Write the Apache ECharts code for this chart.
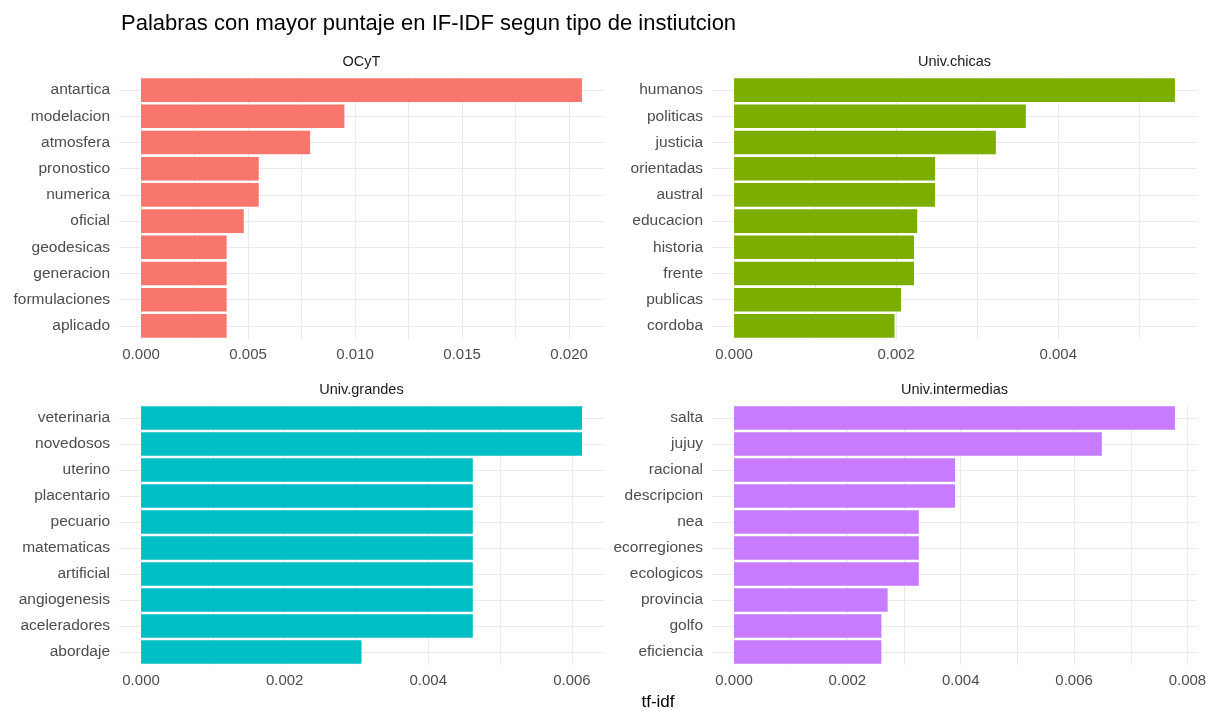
<!DOCTYPE html>
<html>
<head>
<meta charset="utf-8">
<script src="https://cdn.jsdelivr.net/npm/echarts@6/dist/echarts.min.js"></script>
<style>
  html, body { margin: 0; padding: 0; background: #fff; }
  #chart { width: 1214px; height: 711px; }
</style>
</head>
<body>
<div id="chart"></div>
<script>
document.addEventListener('DOMContentLoaded', function() {

    const chartDom = document.getElementById('chart');
    const myChart = echarts.init(chartDom);

    // panel names (facets)
    const panelNames = ['OCyT', 'Univ.chicas', 'Univ.grandes', 'Univ.intermedias'];
    const panelColors = ['#F8766D', '#7CAE00', '#00BFC4', '#C77CFF'];

    // words and tf-idf per panel, top to bottom
    const ocytWords = ['antartica', 'modelacion', 'atmosfera', 'pronostico', 'numerica', 'oficial', 'geodesicas', 'generacion', 'formulaciones', 'aplicado'];
    const ocytValues = [0.0206, 0.0095, 0.0079, 0.0055, 0.0055, 0.0048, 0.0040, 0.0040, 0.0040, 0.0040];

    const chicasWords = ['humanos', 'politicas', 'justicia', 'orientadas', 'austral', 'educacion', 'historia', 'frente', 'publicas', 'cordoba'];
    const chicasValues = [0.00544, 0.00360, 0.00323, 0.00248, 0.00248, 0.00226, 0.00222, 0.00222, 0.00206, 0.00198];

    const grandesWords = ['veterinaria', 'novedosos', 'uterino', 'placentario', 'pecuario', 'matematicas', 'artificial', 'angiogenesis', 'aceleradores', 'abordaje'];
    const grandesValues = [0.00614, 0.00614, 0.00462, 0.00462, 0.00462, 0.00462, 0.00462, 0.00462, 0.00462, 0.00307];

    const intermediasWords = ['salta', 'jujuy', 'racional', 'descripcion', 'nea', 'ecorregiones', 'ecologicos', 'provincia', 'golfo', 'eficiencia'];
    const intermediasValues = [0.00778, 0.00649, 0.00390, 0.00390, 0.00326, 0.00326, 0.00326, 0.00271, 0.00260, 0.00260];

    // x tick labels (major) and minor grid positions
    const ocytTicks = [0, 0.005, 0.010, 0.015, 0.020];
    const ocytMinor = [0.0025, 0.0075, 0.0125, 0.0175];
    const chicasTicks = [0, 0.002, 0.004];
    const chicasMinor = [0.001, 0.003, 0.005];
    const grandesTicks = [0, 0.002, 0.004, 0.006];
    const grandesMinor = [0.001, 0.003, 0.005];
    const intermediasTicks = [0, 0.002, 0.004, 0.006, 0.008];
    const intermediasMinor = [0.001, 0.003, 0.005, 0.007];

    const words = [ocytWords, chicasWords, grandesWords, intermediasWords];
    const values = [ocytValues, chicasValues, grandesValues, intermediasValues];
    const majors = [ocytTicks, chicasTicks, grandesTicks, intermediasTicks];
    const minors = [ocytMinor, chicasMinor, grandesMinor, intermediasMinor];

    // panel boxes
    const panels = [
        { left: 119, top: 77, width: 485, height: 262 },
        { left: 712, top: 77, width: 485, height: 262 },
        { left: 119, top: 405, width: 485, height: 260 },
        { left: 712, top: 405, width: 485, height: 260 }
    ];

    const font = '"Liberation Sans", Arial, sans-serif';

    const grids = [], xAxes = [], yAxes = [], series = [], graphics = [];

    panels.forEach(function(p, i) {
        const maxVal = Math.max.apply(null, values[i]);
        const pad = maxVal * 0.05;

        grids.push({
            left: p.left, top: p.top, width: p.width, height: p.height,
            containLabel: false, outerBoundsMode: 'none'
        });

        xAxes.push({
            type: 'value',
            gridIndex: i,
            min: -pad,
            max: maxVal + pad,
            axisLine: { show: false, onZero: false },
            axisTick: { show: false, customValues: majors[i].concat(minors[i]) },
            splitLine: { show: true, lineStyle: { color: '#EBEBEB', width: 1 } },
            axisLabel: {
                customValues: majors[i],
                formatter: function(v) { return v.toFixed(3); },
                color: '#4D4D4D',
                fontSize: 15,
                fontFamily: font,
                margin: 8
            }
        });

        yAxes.push({
            type: 'category',
            gridIndex: i,
            inverse: true,
            data: words[i],
            axisLine: { show: false, onZero: false },
            axisTick: {
                show: true, inside: true, alignWithLabel: true,
                length: p.width,
                lineStyle: { color: '#EBEBEB', width: 1 }
            },
            splitLine: { show: false },
            axisLabel: {
                color: '#4D4D4D',
                fontSize: 15.5,
                fontFamily: font,
                margin: 9
            }
        });

        series.push({
            type: 'bar',
            xAxisIndex: i,
            yAxisIndex: i,
            data: values[i],
            barCategoryGap: '10%',
            itemStyle: { color: panelColors[i] },
            silent: true
        });

        graphics.push({
            type: 'text',
            x: p.left + p.width / 2,
            y: p.top - 15,
            style: {
                text: panelNames[i],
                fill: '#1A1A1A',
                font: '14.5px ' + font,
                textAlign: 'center',
                textVerticalAlign: 'middle'
            }
        });
    });

    graphics.push({
        type: 'text',
        x: (panels[0].left + panels[1].left + panels[1].width) / 2,
        y: 702,
        style: {
            text: 'tf-idf',
            fill: '#000',
            font: '17px ' + font,
            textAlign: 'center',
            textVerticalAlign: 'middle'
        }
    });

    const option = {
        animation: false,
        backgroundColor: '#fff',
        title: {
            text: 'Palabras con mayor puntaje en IF-IDF segun tipo de instiutcion',
            left: 116,
            top: 8,
            textStyle: { color: '#000', fontSize: 22, fontWeight: 'normal', fontFamily: font }
        },
        grid: grids,
        xAxis: xAxes,
        yAxis: yAxes,
        series: series,
        graphic: graphics
    };

    myChart.setOption(option);
});
</script>
</body>
</html>
